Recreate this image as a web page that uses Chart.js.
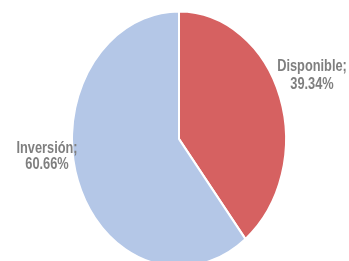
<!DOCTYPE html>
<html>
<head>
<meta charset="utf-8">
<script src="https://cdn.jsdelivr.net/npm/chart.js@4.4.0/dist/chart.umd.min.js"></script>
<style>
  html, body { margin: 0; padding: 0; background: #ffffff; }
  #wrap { width: 349px; height: 261px; }
</style>
</head>
<body>
<div id="wrap"><canvas id="pieChart" width="349" height="261"></canvas></div>
<script>
var categories = ['Disponible', 'Inversión'];
var shares = [39.34, 60.66];
var sliceColors = ['#D66161', '#B4C7E7'];

// where each label block is centred (x, first baseline)
var labelPos = [[312, 71], [47, 153]];
var lineGap = [18, 16];

// the original pie is a bit taller than wide
var stretchY = 1.193;
// labels use a narrow face; squeeze a regular one
var squeezeX = 0.8;

var ellipsePlugin = {
    id: 'ellipse',
    beforeDatasetsDraw: function (chart) {
        var arc = chart.getDatasetMeta(0).data[0];
        var ctx = chart.ctx;
        ctx.save();
        ctx.translate(arc.x, arc.y);
        ctx.scale(1, stretchY);
        ctx.translate(-arc.x, -arc.y);
    },
    afterDatasetsDraw: function (chart) {
        chart.ctx.restore();
    }
};

var labelPlugin = {
    id: 'pieLabels',
    afterDraw: function (chart) {
        var ctx = chart.ctx;
        categories.forEach(function (name, i) {
            var p = labelPos[i];
            ctx.save();
            ctx.translate(p[0], p[1]);
            ctx.scale(squeezeX, 1);
            ctx.fillStyle = '#7F7F7F';
            ctx.font = 'bold 16px "Liberation Sans", Arial, sans-serif';
            ctx.textAlign = 'center';
            ctx.textBaseline = 'alphabetic';
            ctx.fillText(name + ';', 0, 0);
            ctx.fillText(shares[i].toFixed(2) + '%', 0, lineGap[i]);
            ctx.restore();
        });
    }
};

var pieChart = new Chart(document.getElementById('pieChart').getContext('2d'), {
    type: 'pie',
    data: {
        labels: categories,
        datasets: [{
            data: shares,
            backgroundColor: sliceColors,
            borderColor: '#ffffff',
            borderWidth: 2
        }]
    },
    options: {
        responsive: false,
        animation: false,
        layout: {
            padding: { left: 71, right: 62, top: 31, bottom: 14 }
        },
        plugins: {
            legend: { display: false },
            tooltip: { enabled: false },
            title: { display: false }
        }
    },
    plugins: [ellipsePlugin, labelPlugin]
});
</script>
</body>
</html>
